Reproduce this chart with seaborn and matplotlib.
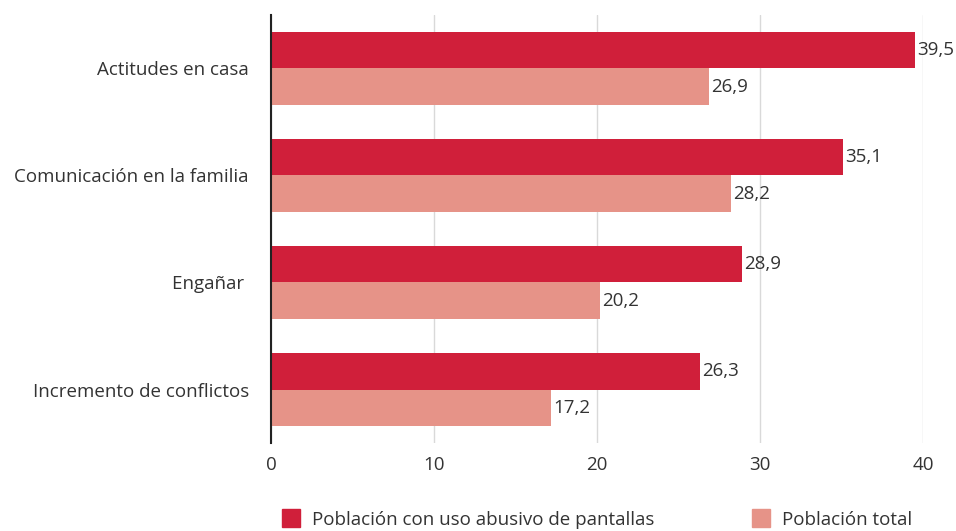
import pandas as pd
import seaborn as sns
import matplotlib.pyplot as plt
import matplotlib.lines as mlines

# Data
categorias = ['Actitudes en casa', 'Comunicación en la familia', 'Engañar ', 'Incremento de conflictos']
abusivo = [39.5, 35.1, 28.9, 26.3]
total = [26.9, 28.2, 20.2, 17.2]
series = ['Población con uso abusivo de pantallas', 'Población total']
colores = ['#D01F3A', '#E69388']

df = pd.DataFrame({
    'categoria': categorias * 2,
    'valor': abusivo + total,
    'serie': [series[0]] * len(categorias) + [series[1]] * len(categorias),
})

# Figure
sns.set_style('white')
plt.rcParams['font.family'] = ['Open Sans', 'DejaVu Sans']
texto = '#333333'
fs = 13.5

dpi = 100
fig, ax = plt.subplots(figsize=(9.56, 5.31), dpi=dpi)
plt.subplots_adjust(left=0.2835, right=0.9655, top=0.9718, bottom=0.1657)

sns.barplot(data=df, y='categoria', x='valor', hue='serie', palette=colores,
            width=0.68, orient='h', ax=ax, legend=False, saturation=1,
            linewidth=0)

# Value labels
for cont in ax.containers:
    labels = [f'{b.get_width():.1f}'.replace('.', ',') for b in cont]
    ax.bar_label(cont, labels=labels, padding=1.5, fontsize=fs, color=texto)

ax.set_xlim(0, 40)
ax.set_ylim(3.5, -0.5)
ax.set_xticks([0, 10, 20, 30, 40])
ax.xaxis.grid(True, color='#d9d9d9', linewidth=1)
ax.set_axisbelow(True)

for s in ['top', 'right', 'bottom']:
    ax.spines[s].set_visible(False)
ax.spines['left'].set_color('#222222')
ax.spines['left'].set_linewidth(1.5)

ax.tick_params(axis='both', length=0, labelsize=fs, colors=texto)
ax.tick_params(axis='y', pad=16)
ax.tick_params(axis='x', pad=9)
ax.set_xlabel('')
ax.set_ylabel('')

# Legend
handles = [
    mlines.Line2D([], [], marker='s', markersize=13.5, linestyle='None',
                  markerfacecolor=c, markeredgecolor=c, label=l)
    for c, l in zip(colores, series)
]
leg = ax.legend(handles=handles, loc='center', bbox_to_anchor=(0.5, -0.18),
                ncol=2, frameon=False, fontsize=fs, columnspacing=5.2,
                handletextpad=0.6, handlelength=1.0)
for t in leg.get_texts():
    t.set_color(texto)

fig.savefig('out.png', dpi=dpi)
